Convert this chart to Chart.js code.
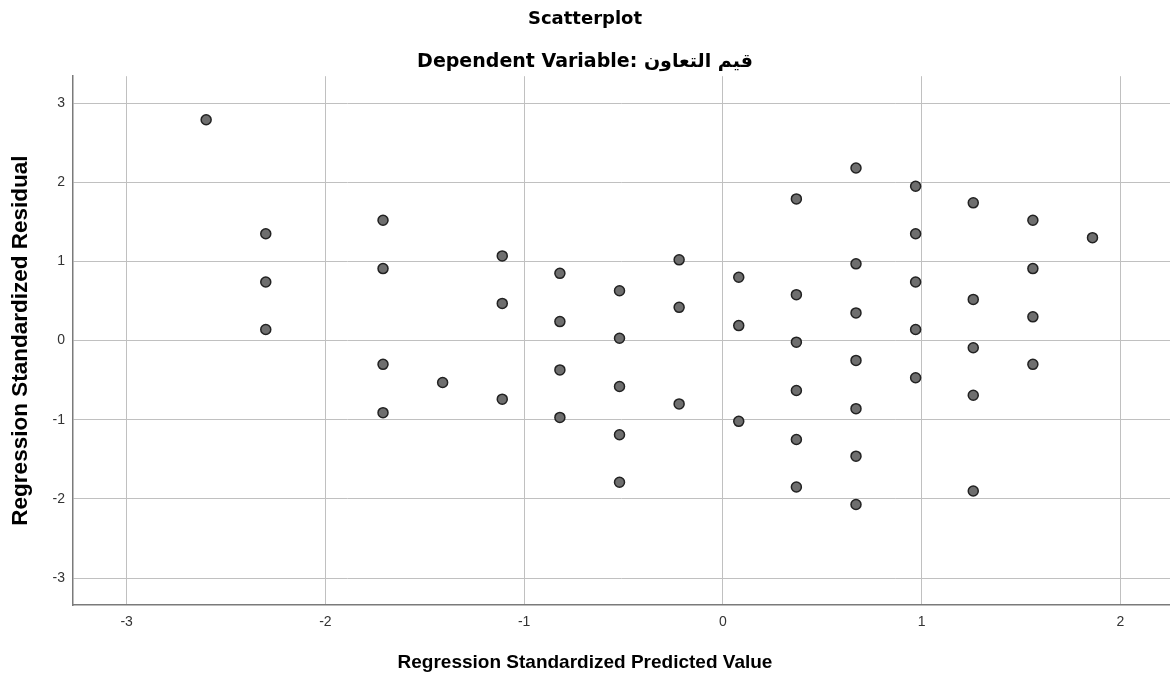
<!DOCTYPE html>
<html>
<head>
<meta charset="utf-8">
<script src="https://cdn.jsdelivr.net/npm/chart.js@4/dist/chart.umd.min.js"></script>
<style>
  html, body { margin: 0; padding: 0; background: #ffffff; }
  #wrap { width: 1170px; height: 679px; }
</style>
</head>
<body>
<div id="wrap"><canvas id="c" width="1170" height="679"></canvas></div>
<script>
// ---- Data ----
const chartTitle = "Scatterplot";
const chartSubtitle = "Dependent Variable: قيم التعاون";
const xAxisTitle = "Regression Standardized Predicted Value";
const yAxisTitle = "Regression Standardized Residual";

const predicted = [
  -2.60,
  -2.30, -2.30, -2.30,
  -1.71, -1.71, -1.71, -1.71,
  -1.41,
  -1.11, -1.11, -1.11,
  -0.82, -0.82, -0.82, -0.82,
  -0.52, -0.52, -0.52, -0.52, -0.52,
  -0.22, -0.22, -0.22,
  0.08, 0.08, 0.08,
  0.37, 0.37, 0.37, 0.37, 0.37, 0.37,
  0.67, 0.67, 0.67, 0.67, 0.67, 0.67, 0.67,
  0.97, 0.97, 0.97, 0.97, 0.97,
  1.26, 1.26, 1.26, 1.26, 1.26,
  1.56, 1.56, 1.56, 1.56,
  1.86
];
const residual = [
  2.79,
  1.35, 0.74, 0.14,
  1.52, 0.91, -0.30, -0.91,
  -0.53,
  1.07, 0.47, -0.74,
  0.85, 0.24, -0.37, -0.97,
  0.63, 0.03, -0.58, -1.19, -1.79,
  1.02, 0.42, -0.80,
  0.80, 0.19, -1.02,
  1.79, 0.58, -0.02, -0.63, -1.25, -1.85,
  2.18, 0.97, 0.35, -0.25, -0.86, -1.46, -2.07,
  1.95, 1.35, 0.74, 0.14, -0.47,
  1.74, 0.52, -0.09, -0.69, -1.90,
  1.52, 0.91, 0.30, -0.30,
  1.30
];
const xTicks = [-3, -2, -1, 0, 1, 2];
const yTicks = [-3, -2, -1, 0, 1, 2, 3];
const xRange = [-3.27, 2.25];
const yRange = [-3.34, 3.34];

// ---- Build chart ----
const points = predicted.map((x, i) => ({ x: x, y: residual[i] }));
const FAMILY = "'Liberation Sans', Arial, Helvetica, sans-serif";
const WIDE = "'DejaVu Sans', 'Liberation Sans', sans-serif";

// x-axis title centred on the whole canvas (as in the reference)
const xTitlePlugin = {
  id: 'xAxisTitleCentered',
  afterDraw(chart, args, opts) {
    const ctx = chart.ctx;
    ctx.save();
    ctx.font = opts.font;
    ctx.fillStyle = opts.color;
    ctx.textAlign = 'center';
    ctx.textBaseline = 'middle';
    ctx.fillText(opts.text, chart.width / 2, chart.chartArea.bottom + opts.offset);
    ctx.restore();
  }
};

new Chart(document.getElementById('c'), {
  type: 'scatter',
  data: {
    datasets: [{
      data: points,
      pointRadius: 5,
      pointHoverRadius: 5,
      pointBackgroundColor: '#6e6e6e',
      pointBorderColor: '#222222',
      pointBorderWidth: 1.5
    }]
  },
  plugins: [xTitlePlugin],
  options: {
    responsive: false,
    devicePixelRatio: 1,
    animation: false,
    layout: { padding: 0, autoPadding: false },
    plugins: {
      legend: { display: false },
      tooltip: { enabled: false },
      title: {
        display: true,
        text: chartTitle,
        color: '#000',
        font: { family: WIDE, size: 18, weight: 'bold' },
        padding: { top: 9, bottom: 7 }
      },
      subtitle: {
        display: true,
        text: chartSubtitle,
        color: '#000',
        font: { family: WIDE, size: 19, weight: 'bold' },
        padding: { top: 13, bottom: 2.8 }
      },
      xAxisTitleCentered: {
        text: xAxisTitle,
        font: "bold 19px " + FAMILY,
        color: '#000',
        offset: 58
      }
    },
    scales: {
      x: {
        type: 'linear',
        min: xRange[0],
        max: xRange[1],
        afterBuildTicks: s => { s.ticks = xTicks.map(v => ({ value: v })); },
        afterFit: s => { s.height = 74; },
        ticks: {
          includeBounds: false,
          color: '#333',
          font: { family: FAMILY, size: 14 },
          padding: 9,
          maxRotation: 0,
          callback: v => String(v)
        },
        grid: { color: '#c0c0c0', lineWidth: 1, drawTicks: false },
        border: { display: true, color: '#7a7a7a', width: 1.5 }
      },
      y: {
        type: 'linear',
        min: yRange[0],
        max: yRange[1],
        afterBuildTicks: s => { s.ticks = yTicks.map(v => ({ value: v })); },
        afterFit: s => { s.width = 73; },
        ticks: {
          includeBounds: false,
          color: '#333',
          font: { family: FAMILY, size: 14 },
          padding: 8,
          callback: v => String(v)
        },
        grid: { color: '#c0c0c0', lineWidth: 1, drawTicks: false },
        border: { display: true, color: '#7a7a7a', width: 1.5 },
        title: {
          display: true,
          text: yAxisTitle,
          color: '#000',
          font: { family: FAMILY, size: 22.5, weight: 'bold' },
          padding: { top: 7.5, bottom: 0 }
        }
      }
    }
  }
});
</script>
</body>
</html>
